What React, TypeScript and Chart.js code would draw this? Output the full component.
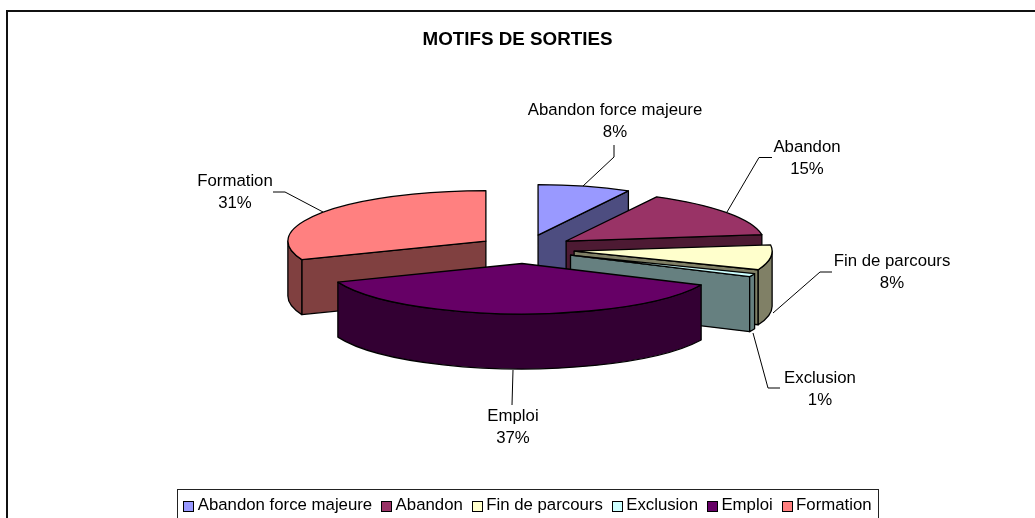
import React, { useEffect, useRef } from "react";
import { Chart, registerables } from "chart.js";

Chart.register(...registerables);

const categories = ["Abandon force majeure", "Abandon", "Fin de parcours", "Exclusion", "Emploi", "Formation"];
const shares = [8, 15, 8, 1, 37, 31];
const topColors = ["#9999FF", "#993366", "#FFFFCC", "#CCFFFF", "#660066", "#FF8080"];
const wallColors = ["#4D4D80", "#4D1A33", "#808066", "#668080", "#330033", "#804040"];
const drawOrder = [5, 0, 1, 2, 3, 4];

const FONT = '"Liberation Sans", Arial, sans-serif';
const CX = 526;
const CY = 249.3;
const SQUASH = 0.255;
const DEPTH = 55;
const EXPLODE_X = 48.5;
const EXPLODE_Y = 14.7;
// Small per-slice perspective correction: [x scale, x shear, x nudge, y nudge]
const warp = [
  [0.947, 0, 0, 0],
  [1, 0.11, 0, 0],
  [1, 0, 0, 0],
  [1, 0, 0, 0],
  [1, 0, -2.5, -0.5],
  [1, 0, 0, 0],
];

const labelAnchors = [
  [615, 110],
  [807, 147],
  [892, 261],
  [820, 378],
  [513, 416],
  [235, 181],
];
const leaders = [
  [[614, 145], [614, 157], [583, 186]],
  [[772, 157.5], [759, 157.5], [727, 212]],
  [[832, 272], [820, 272], [773, 313]],
  [[780, 388], [768, 388], [753, 333]],
  [[512, 405], [513, 370]],
  [[273, 192], [285, 192], [323, 212]],
];

const pie3d = {
  id: "pie3d",
  afterLayout(chart: any) {
    const legend = chart.legend;
    legend.left += 10;
    legend.right += 10;
    legend.top += 6;
    legend.bottom += 6;
  },
  beforeDraw(chart: any) {
    const ctx = chart.ctx;
    ctx.save();
    ctx.fillStyle = "#fff";
    ctx.fillRect(0, 0, chart.width, chart.height);
    ctx.strokeStyle = "#111";
    ctx.lineWidth = 2;
    ctx.strokeRect(7, 11, 1100, 600);
    ctx.lineWidth = 1;
    ctx.strokeStyle = "#222";
    ctx.strokeRect(177.5, 489.5, 701, 40);
    ctx.restore();
  },
  beforeDatasetDraw(chart: any) {
    const ctx = chart.ctx;
    const arcs = chart.getDatasetMeta(0).data;
    ctx.save();
    ctx.lineJoin = "round";
    ctx.strokeStyle = "#000";
    ctx.lineWidth = 1.3;
    for (const i of drawOrder) {
      const arc = arcs[i];
      const { startAngle: s, endAngle: e, outerRadius: r } = arc;
      const mid = (s + e) / 2;
      const [sx, shear, nx, ny] = warp[i];
      const vx = CX + Math.cos(mid) * EXPLODE_X + nx;
      const vy = CY + Math.sin(mid) * EXPLODE_Y + ny;
      const px = (a: number) => vx + sx * Math.cos(a) * r + shear * Math.sin(a) * r * SQUASH;
      const py = (a: number) => vy + Math.sin(a) * r * SQUASH;
      const wall = (a: number) => {
        ctx.beginPath();
        ctx.moveTo(vx, vy);
        ctx.lineTo(px(a), py(a));
        ctx.lineTo(px(a), py(a) + DEPTH);
        ctx.lineTo(vx, vy + DEPTH);
        ctx.closePath();
        ctx.fillStyle = wallColors[i];
        ctx.fill();
        ctx.stroke();
      };
      // Only the cut faces and rim parts that look toward the viewer
      if (Math.cos(s) < -1e-6) wall(s);
      if (Math.cos(e) > 1e-6) wall(e);

      const lo = Math.max(s, 0);
      const hi = Math.min(e, Math.PI);
      if (hi > lo) {
        ctx.beginPath();
        ctx.ellipse(vx, vy, r, r * SQUASH, 0, lo, hi);
        ctx.lineTo(px(hi), py(hi) + DEPTH);
        ctx.ellipse(vx, vy + DEPTH, r, r * SQUASH, 0, hi, lo, true);
        ctx.closePath();
        ctx.fillStyle = wallColors[i];
        ctx.fill();
        ctx.stroke();
      }

      // Top face: the library's own arc, flattened
      const flatten = () => {
        ctx.translate(vx, vy);
        ctx.transform(sx, 0, shear, 1, 0, 0);
        ctx.scale(1, SQUASH);
      };
      ctx.save();
      flatten();
      ctx.translate(-arc.x, -arc.y);
      arc.draw(ctx);
      ctx.restore();
      ctx.save();
      flatten();
      ctx.beginPath();
      ctx.moveTo(0, 0);
      ctx.arc(0, 0, r, s, e);
      ctx.closePath();
      ctx.restore();
      ctx.stroke();
    }
    ctx.restore();

    ctx.save();
    ctx.strokeStyle = "#000";
    ctx.lineWidth = 1;
    for (const pts of leaders) {
      ctx.beginPath();
      pts.forEach(([x, y], k) => (k ? ctx.lineTo(x, y) : ctx.moveTo(x, y)));
      ctx.stroke();
    }
    ctx.fillStyle = "#000";
    ctx.font = `16.8px ${FONT}`;
    ctx.textAlign = "center";
    ctx.textBaseline = "middle";
    categories.forEach((c, i) => {
      const [x, y] = labelAnchors[i];
      ctx.fillText(c, x, y);
      ctx.fillText(`${shares[i]}%`, x, y + 22);
    });
    ctx.restore();
    return false;
  },
  afterDraw(chart: any) {
    const ctx = chart.ctx;
    const boxes = chart.legend.legendHitBoxes;
    ctx.save();
    ctx.strokeStyle = "#000";
    ctx.lineWidth = 1;
    boxes.forEach((b: any, i: number) => {
      const x = Math.round(b.left) + 0.5;
      const y = Math.round(b.top + (b.height - 10) / 2) + 0.5;
      ctx.fillStyle = topColors[i];
      ctx.fillRect(x, y, 10, 10);
      ctx.strokeRect(x, y, 10, 10);
    });
    ctx.restore();
  },
};

export default function App() {
  const ref = useRef<HTMLCanvasElement>(null);
  useEffect(() => {
    document.body.style.margin = "0";
    const chart = new Chart(ref.current!, {
      type: "pie",
      data: {
        labels: categories,
        datasets: [
          {
            data: shares,
            backgroundColor: topColors,
            borderWidth: 0,
            radius: 198,
          } as any,
        ],
      },
      plugins: [pie3d],
      options: {
        animation: false,
        responsive: false,
        layout: { padding: 0 },
        plugins: {
          tooltip: { enabled: false },
          title: {
            display: true,
            text: "MOTIFS DE SORTIES",
            color: "#000",
            font: { family: FONT, size: 18.8, weight: "bold" },
            padding: { top: 29, bottom: 10 },
          },
          legend: {
            display: true,
            position: "bottom",
            labels: {
              color: "#000",
              font: { family: FONT, size: 16.8 },
              boxWidth: 6,
              boxHeight: 10,
              padding: 9,
              generateLabels: () =>
                categories.map((text, i) => ({
                  text,
                  fillStyle: "rgba(0,0,0,0)",
                  strokeStyle: "rgba(0,0,0,0)",
                  lineWidth: 0,
                  index: i,
                  fontColor: "#000",
                })),
            },
          },
        },
      },
    } as any);
    return () => chart.destroy();
  }, []);
  return <canvas ref={ref} width={1035} height={518} style={{ display: "block" }} />;
}
